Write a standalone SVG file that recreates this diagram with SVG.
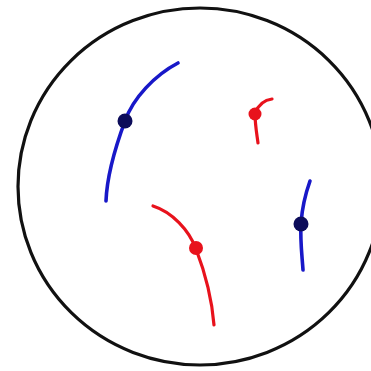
<svg xmlns="http://www.w3.org/2000/svg" width="371" height="371" viewBox="0 0 371 371">
<style>
.bnd{fill:none;stroke:#111;stroke-width:3.2}
.bl{fill:none;stroke:#1818c8;stroke-width:3.6;stroke-linecap:round}
.rd{fill:none;stroke:#e8121c;stroke-width:3.2;stroke-linecap:round}
.bd{fill:#0c0c5a}
.rdd{fill:#e8121c}
</style>
<rect width="371" height="371" fill="#fff"/>
<g id="boundary"><ellipse class="bnd" cx="200" cy="186.5" rx="182" ry="178.5"/></g>
<g id="connectors">
<path id="blue1" class="bl" d="M178,63 C155,75 133,98 125,121 C115,148 107,175 106,201"/>
<path id="red1" class="rd" d="M153,206 C172,212 189,230 196,249 C206,275 212,300 214,325"/>
<path id="red2" class="rd" d="M272,99 C264,100 258,106 255,113 C255,125 257,135 258,143"/>
<path id="blue2" class="bl" d="M310,181 C305,195 302,210 301,223 C300,240 302,255 303,270"/>
</g>
<g id="dot-blue1"><circle class="bd" cx="125" cy="121" r="7.5"/></g>
<g id="dot-red1"><circle class="rdd" cx="196" cy="248" r="7"/></g>
<g id="dot-red2"><circle class="rdd" cx="255" cy="114" r="6.5"/></g>
<g id="dot-blue2"><circle class="bd" cx="301" cy="224" r="7.5"/></g>
</svg>
